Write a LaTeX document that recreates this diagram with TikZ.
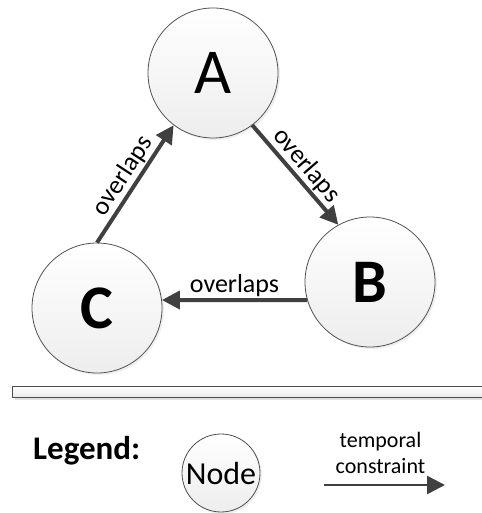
\documentclass[tikz,border=0pt]{standalone}
\usepackage{fontspec}
\setmainfont{Carlito}
\usetikzlibrary{arrows.meta,shadows}
\definecolor{arrowgray}{HTML}{404040}
\definecolor{edgegray}{HTML}{505050}
\begin{document}
\begin{tikzpicture}[x=1pt,y=-1pt,
  bignode/.style={circle,draw=edgegray,line width=0.8pt,inner sep=0pt,minimum size=130pt,
    top color=white,bottom color=black!7,
    drop shadow={shadow xshift=2pt,shadow yshift=-2pt,fill=black!12}},
  rel/.style={draw=arrowgray,line width=4pt,-{Triangle[length=18pt,width=18pt]}},
  lab/.style={font=\fontsize{26}{30}\selectfont,inner sep=1.5pt},
  bigletter/.style={font=\fontsize{64}{70}\selectfont}
]
\useasboundingbox (0,0) rectangle (481,513);
% nodes
\node[bignode,bigletter] (A) at (213,73) {A};
\node[bignode,bigletter,font=\fontsize{62}{70}\selectfont\bfseries] (B) at (370,282) {B};
\node[bignode,bigletter,font=\fontsize{62}{70}\selectfont\bfseries] (C) at (97,308) {C};
% connectors
\draw[rel] (C.90) -- node[lab,sloped,above] {overlaps} (A.-127);
\draw[rel] (A.-53) -- node[lab,sloped,above] {overlaps} (B.119.6);
\draw[rel] (B.-164.4) -- node[lab,above] {overlaps} (C.7.9);
% separator bar
\fill[black!12] (15,389) rectangle (490,400);
\draw[draw=gray!60!black,line width=1pt,top color=white,bottom color=black!8] (12,386) rectangle (490,397);
% legend
\node[font=\fontsize{33}{36}\selectfont\bfseries,anchor=base west,inner sep=0pt] (leg) at (33,459) {Legend:};
\node[bignode,minimum size=78pt,font=\fontsize{32}{36}\selectfont] (N) at (221,473) {Node};
\node[font=\fontsize{22}{26}\selectfont,anchor=base,inner sep=0pt] (t1) at (380.5,447) {temporal};
\node[font=\fontsize{22}{26}\selectfont,anchor=base,inner sep=0pt] (t2) at (380.5,473) {constraint};
\coordinate (ls) at (324,485);
\coordinate (le) at (445,485);
\draw[draw=arrowgray,line width=2.5pt,-{Triangle[length=18pt,width=18pt]}] (ls) -- (le);
\end{tikzpicture}
\end{document}
